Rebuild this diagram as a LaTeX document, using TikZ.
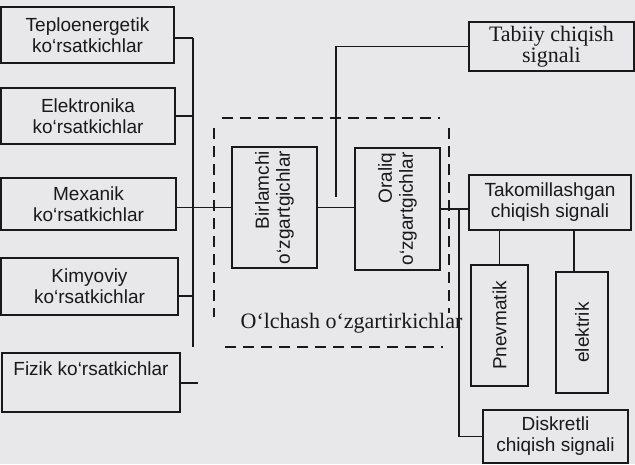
\documentclass[tikz,border=0pt]{standalone}
\usepackage{fontspec}
\setmainfont{Liberation Serif}
\setsansfont{Liberation Sans}
\definecolor{ink}{RGB}{25,25,25}
\definecolor{bg}{RGB}{232,232,234}
\begin{document}
\begin{tikzpicture}[x=1pt,y=-1pt,
  ln/.style={line width=1.5pt, draw=ink},
  box/.style={draw=ink, line width=1.5pt, inner sep=0pt, align=center, text=ink,
    font=\sffamily\fontsize{19}{21}\selectfont},
  sbox/.style={box, font=\rmfamily\fontsize{22}{21}\selectfont},
  vbox/.style={box, rotate=90, align=right},
  dframe/.style={draw=ink, line width=1.5pt, dash pattern=on 11pt off 7pt}]
\fill[bg] (0,0) rectangle (635,464);
\useasboundingbox (0,0) rectangle (635,464);
% left column
\node[box, minimum width=173pt, minimum height=56pt] (tep) at (87.5,35) {Teploenergetik\\ko‘rsatkichlar};
\node[box, minimum width=174pt, minimum height=56pt] (ele) at (88,116) {Elektronika\\ko‘rsatkichlar};
\node[box, minimum width=175pt, minimum height=52pt] (mex) at (88.5,204) {Mexanik\\ko‘rsatkichlar};
\node[box, minimum width=177pt, minimum height=57pt] (kim) at (89.5,286.5) {Kimyoviy\\ko‘rsatkichlar};
\node[box, minimum width=178pt, text height=22pt, text depth=37pt] (fiz) at (91,382.5) {Fizik ko‘rsatkichlar};
% converters
\node[vbox, minimum width=121pt, minimum height=85pt] (bir) at (274.5,207.5) {Birlamchi\\o‘zgartgichlar};
\node[vbox, minimum width=122pt, minimum height=85pt] (ora) at (397.5,209) {Oraliq\\o‘zgartgichlar};
% right column
\node[sbox, minimum width=165pt, minimum height=49pt] (tab) at (551.5,46.5) {Tabiiy chiqish\\signali};
\node[box, minimum width=162pt, minimum height=55pt] (tak) at (550,202.5) {Takomillashgan\\chiqish signali};
\node[vbox, minimum width=121pt, minimum height=57pt] (pnev) at (499.5,325.5) {Pnevmatik};
\node[vbox, minimum width=121pt, minimum height=52pt] (elek) at (582,332.5) {elektrik};
\node[box, minimum width=145pt, minimum height=53pt] (dis) at (555.5,436.5) {Diskretli\\chiqish signali};
% dashed frame and its label
\draw[dframe] (222,118) -- (440,118);
\draw[dframe] (214,128) -- (214,317);
\draw[dframe] (449,128) -- (449,313);
\draw[dframe] (225,347) -- (443,347);
\node[text=ink, font=\rmfamily\fontsize{22}{21}\selectfont, inner sep=0pt] (olch) at (351.5,323) {O‘lchash o‘zgartirkichlar};
% bus on the left
\coordinate (bt) at (193,38);
\coordinate (bb) at (193,347);
\coordinate (kj) at (193,296);
\coordinate (fj) at (198,383);
\draw[ln] (bt) -- (bb);
\draw[ln] (tep.east |- bt) -- (bt);
\draw[ln] (ele.east) -- (ele.east -| bt);
\draw[ln] (kim.east |- kj) -- (kj);
\draw[ln] (fiz.east |- fj) -- (fj);
\draw[ln] (mex.east |- bir.north) -- (bir.north);
% chain
\draw[ln] (bir.south) -- (bir.south -| ora.north);
\coordinate (jn) at (336,197);
\draw[ln] (tab.west) -| (jn);
\draw[ln] (ora.south) -- (ora.south -| tak.west);
\coordinate (dk) at (459,209);
\draw[ln] (dk) |- (dis.west);
\draw[ln] (pnev.east) -- (pnev.east |- tak.south);
\draw[ln] ([xshift=-8pt]elek.east) -- ([xshift=-8pt]elek.east |- tak.south);
\end{tikzpicture}
\end{document}
